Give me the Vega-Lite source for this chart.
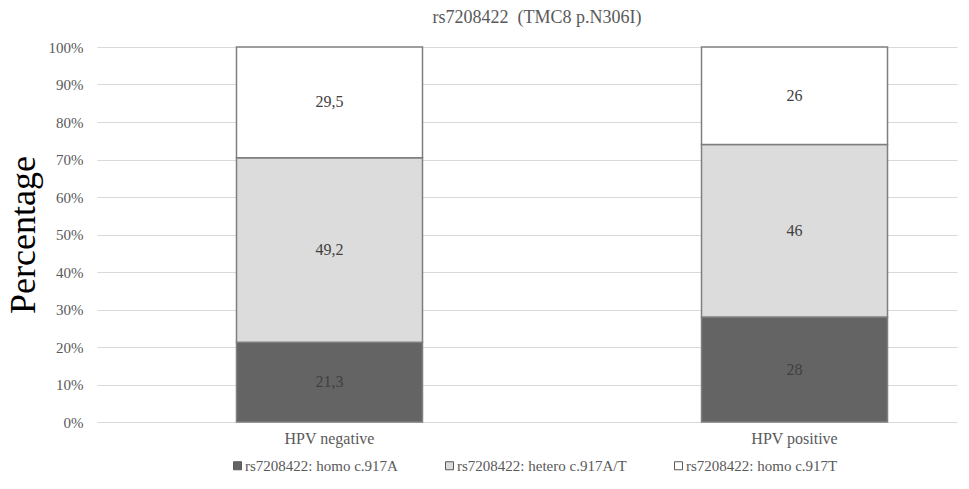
{
  "$schema": "https://vega.github.io/schema/vega-lite/v6.json",
  "autosize": {"type": "none"},
  "padding": {"left": 97, "top": 47, "right": 12, "bottom": 67},
  "width": 860,
  "height": 375,
  "background": "white",
  "title": {
    "text": "rs7208422\u00a0\u00a0(TMC8 p.N306I)",
    "font": "Liberation Serif",
    "fontSize": 18,
    "fontWeight": "normal",
    "color": "#595959",
    "offset": 13,
    "dx": 10
  },
  "config": {
    "view": {"stroke": null},
    "font": "Liberation Serif"
  },
  "data": {
    "values": [
      {"group": "HPV negative", "genotype": "rs7208422: homo c.917A", "rank": 1, "value": 21.3, "label": "21,3"},
      {"group": "HPV negative", "genotype": "rs7208422: hetero c.917A/T", "rank": 2, "value": 49.2, "label": "49,2"},
      {"group": "HPV negative", "genotype": "rs7208422: homo c.917T", "rank": 3, "value": 29.5, "label": "29,5"},
      {"group": "HPV positive", "genotype": "rs7208422: homo c.917A", "rank": 1, "value": 28, "label": "28"},
      {"group": "HPV positive", "genotype": "rs7208422: hetero c.917A/T", "rank": 2, "value": 46, "label": "46"},
      {"group": "HPV positive", "genotype": "rs7208422: homo c.917T", "rank": 3, "value": 26, "label": "26"}
    ]
  },
  "transform": [
    {"stack": "value", "groupby": ["group"], "sort": [{"field": "rank", "order": "ascending"}], "as": ["y0", "y1"]},
    {"calculate": "(datum.y0 + datum.y1) / 2", "as": "ymid"}
  ],
  "encoding": {
    "x": {
      "field": "group",
      "type": "nominal",
      "sort": ["HPV negative", "HPV positive"],
      "scale": {"paddingInner": 0.6, "paddingOuter": 0.2247, "align": 0.6675},
      "axis": {
        "title": null,
        "labelAngle": 0,
        "labelFont": "Liberation Serif",
        "labelFontSize": 16,
        "labelColor": "#595959",
        "labelPadding": 8,
        "ticks": false,
        "domain": false
      }
    }
  },
  "layer": [
    {
      "mark": {"type": "bar", "stroke": "#7f7f7f", "strokeWidth": 1.5},
      "encoding": {
        "y": {
          "field": "y0",
          "type": "quantitative",
          "scale": {"domain": [0, 100]},
          "axis": {
            "title": "Percentage",
            "titleFont": "Liberation Serif",
            "titleFontSize": 36,
            "titleFontWeight": "normal",
            "titleColor": "#000000",
            "titlePadding": 6,
            "tickCount": 10,
            "labelExpr": "datum.value + '%'",
            "labelFont": "Liberation Serif",
            "labelFontSize": 15,
            "labelColor": "#595959",
            "labelPadding": 14,
            "grid": true,
            "gridColor": "#d9d9d9",
            "gridWidth": 1,
            "ticks": false,
            "domain": false
          }
        },
        "y2": {"field": "y1"},
        "color": {
          "field": "genotype",
          "type": "nominal",
          "sort": ["rs7208422: homo c.917A", "rs7208422: hetero c.917A/T", "rs7208422: homo c.917T"],
          "scale": {
            "domain": ["rs7208422: homo c.917A", "rs7208422: hetero c.917A/T", "rs7208422: homo c.917T"],
            "range": ["#646464", "#dcdcdc", "#ffffff"]
          },
          "legend": {
            "title": null,
            "orient": "none",
            "legendX": 133,
            "legendY": 411,
            "direction": "horizontal",
            "symbolType": "square",
            "symbolSize": 64,
            "symbolStrokeColor": "#595959",
            "symbolStrokeWidth": 1,
            "labelFont": "Liberation Serif",
            "labelFontSize": 15,
            "labelColor": "#595959",
            "labelOffset": 0,
            "labelLimit": 400,
            "columnPadding": 44
          }
        }
      }
    },
    {
      "mark": {"type": "text", "font": "Liberation Serif", "fontSize": 16, "color": "#404040", "baseline": "middle"},
      "encoding": {
        "y": {"field": "ymid", "type": "quantitative"},
        "text": {"field": "label"}
      }
    }
  ]
}
